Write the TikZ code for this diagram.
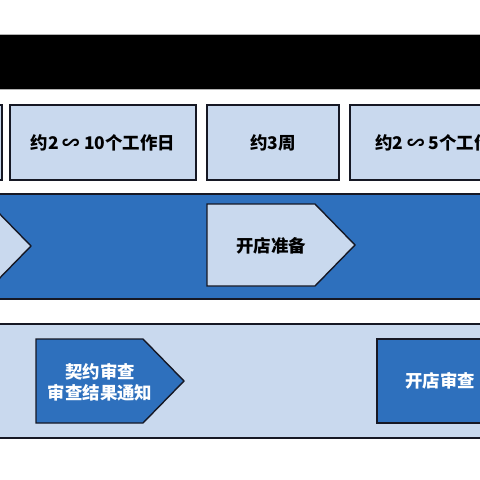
\documentclass[tikz,border=0pt]{standalone}
\usepackage{fontspec}
\newfontfamily\cjk{Noto Sans CJK SC}
\definecolor{dblue}{RGB}{46,112,189}
\definecolor{lblue}{RGB}{201,217,238}
\definecolor{edge}{RGB}{22,24,36}
\begin{document}
\begin{tikzpicture}[x=1bp,y=-1bp,
  outl/.style={draw=edge,line width=1.4bp},
  lbox/.style={outl,fill=lblue},
  dbox/.style={outl,fill=dblue},
  ltxt/.style={font=\cjk\bfseries\fontsize{17.5}{21}\selectfont,text=black,align=center,inner sep=0pt},
  wtxt/.style={font=\cjk\bfseries\fontsize{17.5}{21}\selectfont,text=white,align=center,inner sep=0pt}]
\useasboundingbox (0,0) rectangle (480,480);
\clip (0,0) rectangle (480,480);
% black title bar
\fill[black] (-2,34) rectangle (482,89);
\draw[gray!60,line width=0.8bp] (-2,34) -- (482,34) (-2,89) -- (482,89);
% top row boxes
\draw[lbox] (-184,105) rectangle (2,180);
\draw[lbox] (10,105) rectangle (196,180);
\draw[lbox] (207,105) rectangle (339,180);
\draw[lbox] (350,105) rectangle (536,180);
\node[ltxt] (t2) at (103,143) {约2 ∽ 10个工作日};
\node[ltxt] (t3) at (273,143) {约3周};
\node[ltxt] (t4) at (442,143) {约2 ∽ 5个工作日};
% blue band
\draw[dbox] (-5,194) rectangle (485,299);
\draw[lbox] (-120,205) -- (-9,205) -- (31,246) -- (-9,287) -- (-120,287) -- cycle;
\draw[lbox] (207,204) -- (315,204) -- (355,245) -- (315,286) -- (207,286) -- cycle;
\node[ltxt] (m2) at (271,246) {开店准备};
% bottom band
\draw[lbox] (-5,324) rectangle (485,438);
\draw[dbox] (36,339) -- (143,339) -- (184,381) -- (143,423) -- (36,423) -- cycle;
\node[wtxt] (b1) at (100,382) {契约审查\\审查结果通知};
\draw[dbox] (377,339) rectangle (503,423);
\node[wtxt] (b2) at (440,381) {开店审查};
\end{tikzpicture}
\end{document}
